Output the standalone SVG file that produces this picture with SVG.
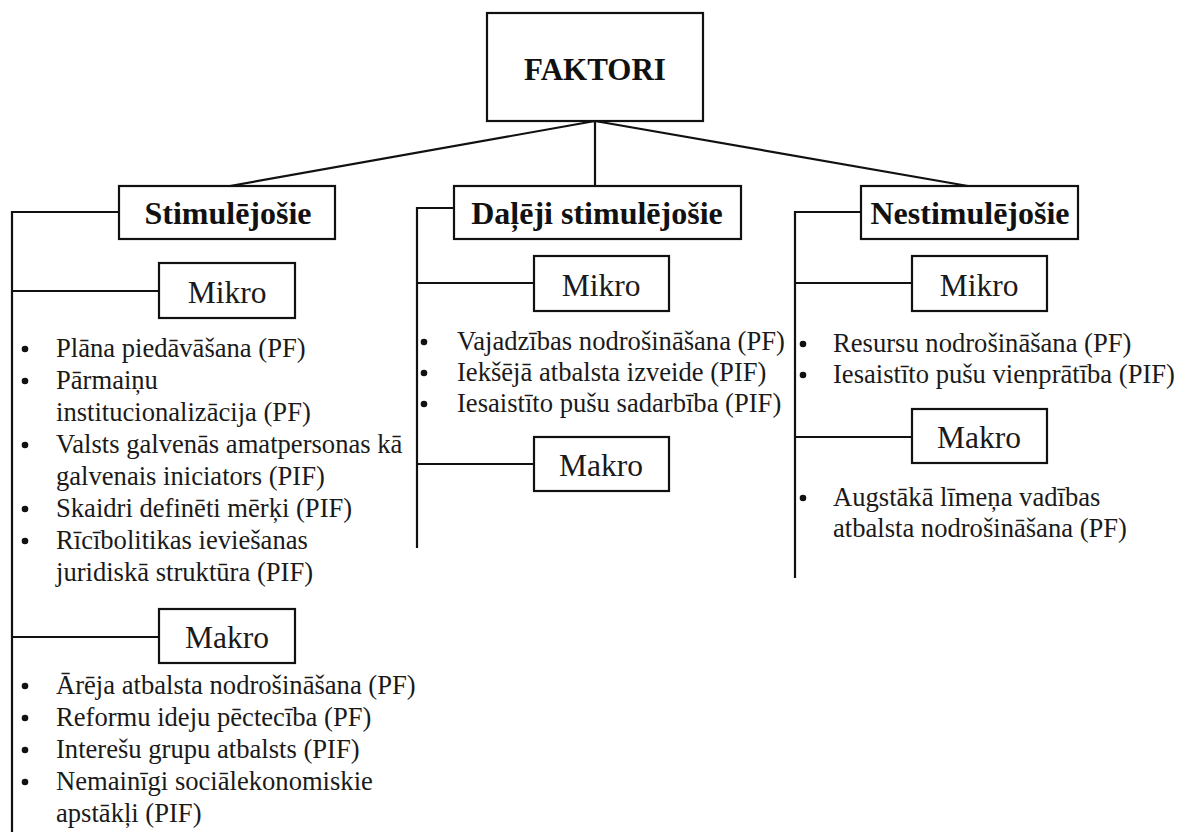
<svg xmlns="http://www.w3.org/2000/svg" width="1187" height="832" viewBox="0 0 1187 832" font-family="Liberation Serif, Times New Roman, serif">
<style>
.box{fill:#fff;stroke:#111;stroke-width:2.2}
.ln{fill:none;stroke:#111;stroke-width:2.2}
.b{font-weight:bold;font-size:32px;fill:#111;text-anchor:middle}
.h{font-size:31.5px;fill:#1a1a1a;text-anchor:middle}
.t{font-size:26.6px;fill:#1a1a1a}
.dot{fill:#111}
</style>
<rect width="1187" height="832" fill="#fff"/>
<g id="connectors">
<path class="ln" d="M595,121 L230,186 M595,121 L595,186 M595,121 L968,186"/>
<path class="ln" d="M119,212 H12 V832 M12,291 H159 M12,637 H159"/>
<path class="ln" d="M454,208 H417 V548 M417,283 H534 M417,464 H534"/>
<path class="ln" d="M861,212 H795 V578 M795,283 H912 M795,437 H912"/>
</g>
<g id="faktori">
<rect class="box" x="487" y="13" width="216" height="108"/>
<text class="b" x="595" y="80" font-family="Liberation Serif" style="font-size:31px">FAKTORI</text>
</g>
<g id="stimulejosie">
<rect class="box" x="119" y="186" width="216" height="53"/>
<text class="b" x="228" y="224" font-family="Liberation Serif">Stimulējošie</text>
</g>
<g id="daleji">
<rect class="box" x="454" y="186" width="287" height="53"/>
<text class="b" x="597" y="224" font-family="Liberation Serif">Daļēji stimulējošie</text>
</g>
<g id="nestimulejosie">
<rect class="box" x="861" y="186" width="217" height="53"/>
<text class="b" x="970" y="224" font-family="Liberation Serif">Nestimulējošie</text>
</g>
<g id="s-mikro">
<rect class="box" x="159" y="263" width="136" height="55"/>
<text class="h" x="227" y="303">Mikro</text>
</g>
<g id="s-mikro-list">
<circle class="dot" cx="25" cy="349" r="3.3"/>
<circle class="dot" cx="25" cy="381" r="3.3"/>
<circle class="dot" cx="25" cy="445" r="3.3"/>
<circle class="dot" cx="25" cy="509" r="3.3"/>
<circle class="dot" cx="25" cy="541" r="3.3"/>
<text class="t" x="56" y="357">Plāna piedāvāšana (PF)</text>
<text class="t" x="56" y="389">Pārmaiņu</text>
<text class="t" x="56" y="421">institucionalizācija (PF)</text>
<text class="t" x="56" y="453">Valsts galvenās amatpersonas kā</text>
<text class="t" x="56" y="485">galvenais iniciators (PIF)</text>
<text class="t" x="56" y="517">Skaidri definēti mērķi (PIF)</text>
<text class="t" x="56" y="549">Rīcībolitikas ieviešanas</text>
<text class="t" x="56" y="581">juridiskā struktūra (PIF)</text>
</g>
<g id="s-makro">
<rect class="box" x="159" y="609" width="136" height="54"/>
<text class="h" x="227" y="648">Makro</text>
</g>
<g id="s-makro-list">
<circle class="dot" cx="25" cy="686" r="3.3"/>
<circle class="dot" cx="25" cy="718" r="3.3"/>
<circle class="dot" cx="25" cy="750" r="3.3"/>
<circle class="dot" cx="25" cy="782" r="3.3"/>
<text class="t" x="56" y="694">Ārēja atbalsta nodrošināšana (PF)</text>
<text class="t" x="56" y="726">Reformu ideju pēctecība (PF)</text>
<text class="t" x="56" y="758">Interešu grupu atbalsts (PIF)</text>
<text class="t" x="56" y="790">Nemainīgi sociālekonomiskie</text>
<text class="t" x="56" y="822">apstākļi (PIF)</text>
</g>
<g id="d-mikro">
<rect class="box" x="534" y="256" width="135" height="55"/>
<text class="h" x="601" y="296">Mikro</text>
</g>
<g id="d-mikro-list">
<circle class="dot" cx="424" cy="342" r="3.3"/>
<circle class="dot" cx="424" cy="373" r="3.3"/>
<circle class="dot" cx="424" cy="404" r="3.3"/>
<text class="t" x="457" y="350">Vajadzības nodrošināšana (PF)</text>
<text class="t" x="457" y="381">Iekšējā atbalsta izveide (PIF)</text>
<text class="t" x="457" y="412">Iesaistīto pušu sadarbība (PIF)</text>
</g>
<g id="d-makro">
<rect class="box" x="534" y="437" width="135" height="54"/>
<text class="h" x="601" y="476">Makro</text>
</g>
<g id="n-mikro">
<rect class="box" x="912" y="256" width="135" height="55"/>
<text class="h" x="979" y="296">Mikro</text>
</g>
<g id="n-mikro-list">
<circle class="dot" cx="803" cy="344" r="3.3"/>
<circle class="dot" cx="803" cy="375" r="3.3"/>
<text class="t" x="833" y="352">Resursu nodrošināšana (PF)</text>
<text class="t" x="833" y="383">Iesaistīto pušu vienprātība (PIF)</text>
</g>
<g id="n-makro">
<rect class="box" x="912" y="409" width="135" height="54"/>
<text class="h" x="979" y="448">Makro</text>
</g>
<g id="n-makro-list">
<circle class="dot" cx="803" cy="498" r="3.3"/>
<text class="t" x="833" y="506">Augstākā līmeņa vadības</text>
<text class="t" x="833" y="537">atbalsta nodrošināšana (PF)</text>
</g>
</svg>
